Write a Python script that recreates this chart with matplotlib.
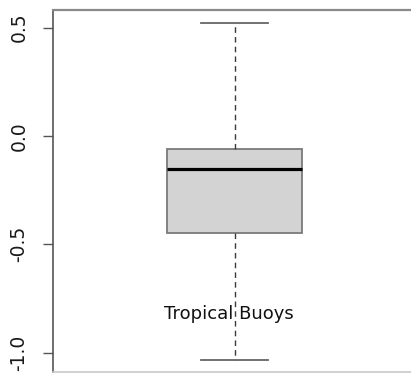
import matplotlib
matplotlib.use("Agg")
import matplotlib.pyplot as plt

# Summary statistics for the single box
label = "Tropical Buoys"
q1 = -0.449
median = -0.152
q3 = -0.061
whisker_low = -1.034
whisker_high = 0.520
y_ticks = [-1.0, -0.5, 0.0, 0.5]
y_tick_labels = ["-1.0", "-0.5", "0.0", "0.5"]

W, H = 411, 373
fig = plt.figure(figsize=(W / 100, H / 100), dpi=100)

# Plot region in pixels (left, top, right, bottom from the top-left corner)
left_px, top_px, right_px, bottom_px = 53, 10, 425, 372
ax = fig.add_axes([left_px / W, 1 - bottom_px / H,
                   (right_px - left_px) / W, (bottom_px - top_px) / H])

stats = [dict(med=median, q1=q1, q3=q3, whislo=whisker_low,
              whishi=whisker_high, fliers=[], label=label)]

ax.bxp(stats, positions=[1], widths=0.8, patch_artist=True,
       showfliers=False,
       boxprops=dict(facecolor="#d3d3d3", edgecolor="#7a7a7a", linewidth=1.3),
       medianprops=dict(color="black", linewidth=2.3),
       whiskerprops=dict(color="#3a3a3a", linewidth=1.0, linestyle=(0, (4, 3))),
       capprops=dict(color="#666666", linewidth=1.3),
       capwidths=0.4)

# x scale: 168.75 px per unit, box centred at pixel 234.7
px_per_unit = 168.75
x0 = 1 - (234.7 - left_px) / px_per_unit
x1 = 1 + (right_px - 234.7) / px_per_unit
ax.set_xlim(x0, x1)
ax.set_ylim(-1.089, 0.581)

ax.set_xticks([])
ax.set_yticks(y_ticks)
ax.set_yticklabels(y_tick_labels, rotation=90, va="center",
                   fontsize=13.5, color="#1a1a1a")
ax.tick_params(axis="y", length=7.2, width=1.0, color="#555555", pad=10.5)

for side, col, lw in [("left", "#555555", 1.2), ("top", "#8a8a8a", 1.6),
                      ("bottom", "#c8c8c8", 1.2), ("right", "#555555", 1.2)]:
    ax.spines[side].set_color(col)
    ax.spines[side].set_linewidth(lw)

ax.text(0.966, -0.845, label, ha="center", va="baseline",
        fontsize=13, color="#111111")

fig.savefig("out.png", dpi=100)
